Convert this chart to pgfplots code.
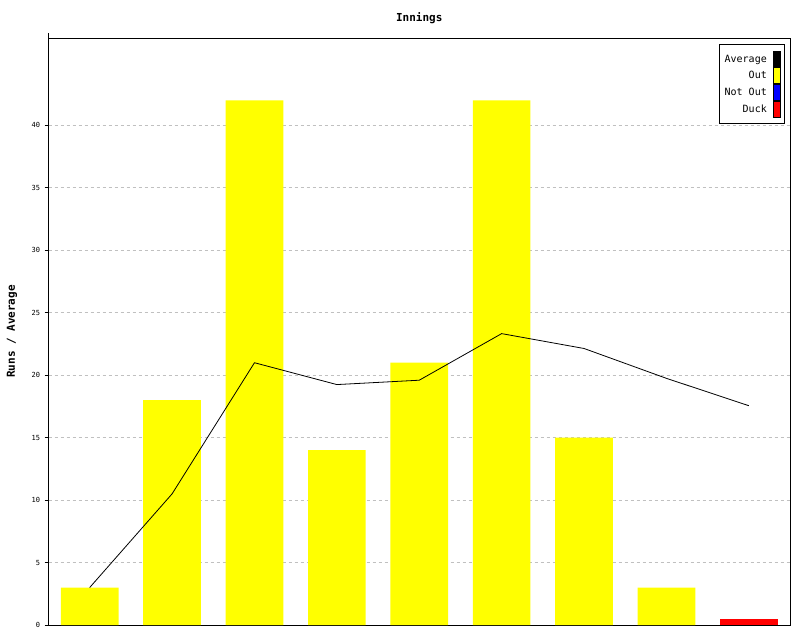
\documentclass[border=0pt]{standalone}
\usepackage{pgfplots}
\pgfplotsset{compat=1.18}
\usepackage{fontspec}
\setmainfont{DejaVu Sans Mono}
\setmonofont{DejaVu Sans Mono}

\definecolor{gridgray}{RGB}{192,192,192}
\definecolor{outyellow}{RGB}{255,255,0}
\definecolor{duckred}{RGB}{255,0,0}
\definecolor{notoutblue}{RGB}{0,0,255}

% runs per innings (last one is a duck), running average
\pgfplotstableread{
x runs
0 3
1 18
2 42
3 14
4 21
5 42
6 15
7 3
}\outs
\pgfplotstableread{
x runs
8 0.5
}\ducks
\pgfplotstableread{
x avg
0 3.00
1 10.50
2 21.00
3 19.25
4 19.60
5 23.33
6 22.14
7 19.75
8 17.56
}\average

\pgfplotsset{
  swatch/.style={legend image code/.code={
    \path[draw=none, fill=none] (0pt,0pt) rectangle (12pt,0pt);
    \draw[fill=#1, draw=black, line width=0.6pt] (5pt,-8pt) rectangle (12pt,8pt);}},
}

\begin{document}
\begin{tikzpicture}
\useasboundingbox (0,0) rectangle (800pt,640pt);
\begin{axis}[
    at={(48.5pt,15pt)}, anchor=south west,
    scale only axis,
    width=741.5pt, height=587pt,
    xmin=-0.5, xmax=8.5,
    ymin=0, ymax=47,
    xtick=\empty,
    ytick={0,5,...,40},
    ytick pos=left,
    tick align=outside,
    major tick length=4pt,
    tick style={black, line width=0.8pt},
    axis line style={line width=0.9pt},
    ymajorgrids,
    grid style={gridgray, dash pattern=on 3pt off 3pt, line width=0.8pt},
    yticklabel style={font=\fontsize{7}{8}\selectfont, xshift=-1pt},
    /pgf/number format/assume math mode=true,
    title={Innings},
    title style={at={(0.5,1)}, anchor=center, yshift=14pt,
      font=\bfseries\fontsize{11}{12}\selectfont},
    ylabel={Runs / Average},
    ylabel style={at={(axis description cs:0,0.5)}, anchor=center,
      yshift=36.5pt, font=\bfseries\fontsize{11}{12}\selectfont},
    legend style={at={(1,1)}, anchor=north east, xshift=-5pt, yshift=-6pt,
      draw=black, line width=0.8pt, inner xsep=4.5pt, inner ysep=6.5pt,
      font=\fontsize{10}{11}\selectfont,
      nodes={inner xsep=1pt, inner ysep=0.5pt}},
    legend cell align=right,
    legend plot pos=right,
    after end axis/.code={\draw[line width=0.9pt] (rel axis cs:0,1) -- ++(0,5pt);},
]
\addplot[ybar, bar width=0.7, bar shift=0, fill=outyellow, draw=none, forget plot]
  table[x=x, y=runs] {\outs};
\addplot[ybar, bar width=0.7, bar shift=0, fill=duckred, draw=none, forget plot]
  table[x=x, y=runs] {\ducks};
\addplot[black, line width=0.8pt, mark=none, forget plot]
  table[x=x, y=avg] {\average};

\addlegendimage{swatch=black}
\addlegendimage{swatch=outyellow}
\addlegendimage{swatch=notoutblue}
\addlegendimage{swatch=duckred}
\legend{Average,Out,Not Out,Duck}
\end{axis}
\end{tikzpicture}
\end{document}
